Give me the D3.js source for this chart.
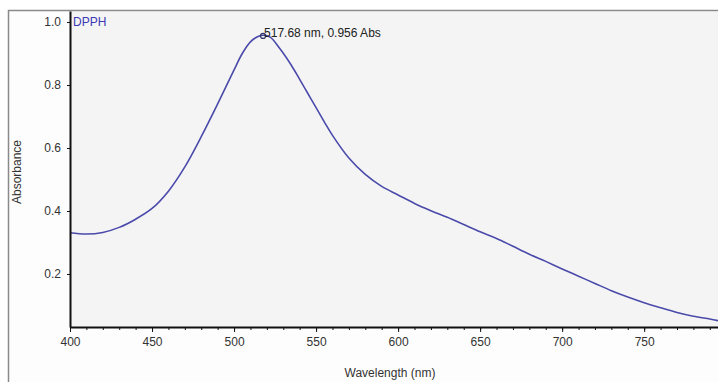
<!DOCTYPE html>
<html>
  <head>
    <script src="https://d3js.org/d3.v7.min.js"></script>
    <style>
    body { margin: 0; background: #fff; }
    .axis text {
      font-family: "Liberation Sans", Arial, sans-serif;
      font-size: 12px;
      fill: #333;
    }
    .axis path, .axis line { stroke: #111; }
    </style>
  </head>
  <body>
    <script>

    // spectrum
    var wavelengths = [400, 410, 420, 430, 440, 450, 460, 470, 480, 490, 500, 505, 510, 515, 518,
      522, 528, 535, 540, 545, 550, 555, 560, 570, 580, 590, 600, 610, 620, 630, 640, 650, 660, 670,
      680, 690, 700, 710, 720, 730, 740, 750, 760, 770, 780, 790, 795];
    var absorbance = [0.331, 0.327, 0.332, 0.348, 0.374, 0.408, 0.463, 0.540, 0.636, 0.740, 0.848,
      0.900, 0.937, 0.955, 0.958, 0.952, 0.915, 0.862, 0.818, 0.773, 0.728, 0.683, 0.640, 0.568,
      0.516, 0.478, 0.451, 0.424, 0.401, 0.380, 0.357, 0.334, 0.313, 0.288, 0.263, 0.240, 0.216,
      0.193, 0.170, 0.147, 0.127, 0.109, 0.093, 0.078, 0.066, 0.057, 0.052];
    var xTicks = [400, 450, 500, 550, 600, 650, 700, 750];
    var yTicks = [0.2, 0.4, 0.6, 0.8, 1.0];
    var peak = { nm: 517.68, abs: 0.956, label: "517.68 nm, 0.956 Abs" };
    var seriesName = "DPPH";

    var data = wavelengths.map(function(w, i) { return [w, absorbance[i]]; });

    var w = 718, h = 382;
    var plotLeft = 70, plotRight = 718, plotTop = 11, plotBottom = 327;

    var xScale = d3.scaleLinear().domain([400, 795]).range([plotLeft, plotRight]);
    var yScale = d3.scaleLinear().domain([0.0317, 1.035]).range([plotBottom, plotTop]);

    var svg = d3.select("body").append("svg")
      .attr("width", w)
      .attr("height", h);

    // outer frame
    svg.append("rect")
      .attr("x", 8.5).attr("y", 10.5)
      .attr("width", w).attr("height", h)
      .attr("fill", "#fdfdfd")
      .attr("stroke", "#8a8a8a")
      .attr("stroke-width", 1.5);

    // plot area
    svg.append("rect")
      .attr("x", plotLeft).attr("y", plotTop + 1)
      .attr("width", plotRight - plotLeft).attr("height", plotBottom - plotTop - 1)
      .attr("fill", "#f4f4f4");

    // the spectrum
    svg.append("path")
      .datum(data)
      .attr("fill", "none")
      .attr("stroke", "#4a4aab")
      .attr("stroke-width", 1.6)
      .attr("d", d3.line()
        .x(function(d) { return xScale(d[0]); })
        .y(function(d) { return yScale(d[1]); })
        .curve(d3.curveCatmullRom));

    // peak marker and label
    svg.append("circle")
      .attr("cx", xScale(peak.nm))
      .attr("cy", yScale(peak.abs))
      .attr("r", 2.5)
      .attr("fill", "none")
      .attr("stroke", "#333366")
      .attr("stroke-width", 1.2);

    svg.append("text")
      .attr("x", xScale(peak.nm) + 1)
      .attr("y", yScale(peak.abs) + 1)
      .attr("font-family", "Liberation Sans, Arial, sans-serif")
      .attr("font-size", 12)
      .attr("fill", "#222")
      .text(peak.label);

    svg.append("text")
      .attr("x", plotLeft + 3)
      .attr("y", 26)
      .attr("font-family", "Liberation Sans, Arial, sans-serif")
      .attr("font-size", 12)
      .attr("fill", "#3a3ab5")
      .text(seriesName);

    // x axis: minor ticks every 10 nm, labels every 50
    svg.append("g")
      .attr("class", "axis")
      .attr("transform", "translate(0," + plotBottom + ")")
      .call(d3.axisBottom(xScale).tickValues(d3.range(400, 800, 10)).tickSize(3).tickFormat(""))
      .call(function(g) { g.select(".domain").remove(); });

    svg.append("g")
      .attr("class", "axis")
      .attr("transform", "translate(0," + plotBottom + ")")
      .call(d3.axisBottom(xScale).tickValues(xTicks).tickSize(5).tickPadding(5).tickSizeOuter(0))
      .call(function(g) { g.select(".domain").attr("stroke-width", 2); });

    // y axis
    svg.append("g")
      .attr("class", "axis")
      .attr("transform", "translate(" + plotLeft + ",0)")
      .call(d3.axisLeft(yScale).tickValues(yTicks).tickSize(3).tickPadding(6).tickSizeOuter(0)
        .tickFormat(d3.format(".1f")))
      .call(function(g) { g.select(".domain").attr("stroke-width", 2); });

    // axis titles
    svg.append("text")
      .attr("x", 390)
      .attr("y", 377)
      .attr("text-anchor", "middle")
      .attr("font-family", "Liberation Sans, Arial, sans-serif")
      .attr("font-size", 12)
      .attr("fill", "#333")
      .text("Wavelength (nm)");

    svg.append("text")
      .attr("transform", "translate(21,172) rotate(-90)")
      .attr("text-anchor", "middle")
      .attr("font-family", "Liberation Sans, Arial, sans-serif")
      .attr("font-size", 12)
      .attr("fill", "#333")
      .text("Absorbance");

    </script>
  </body>
</html>
